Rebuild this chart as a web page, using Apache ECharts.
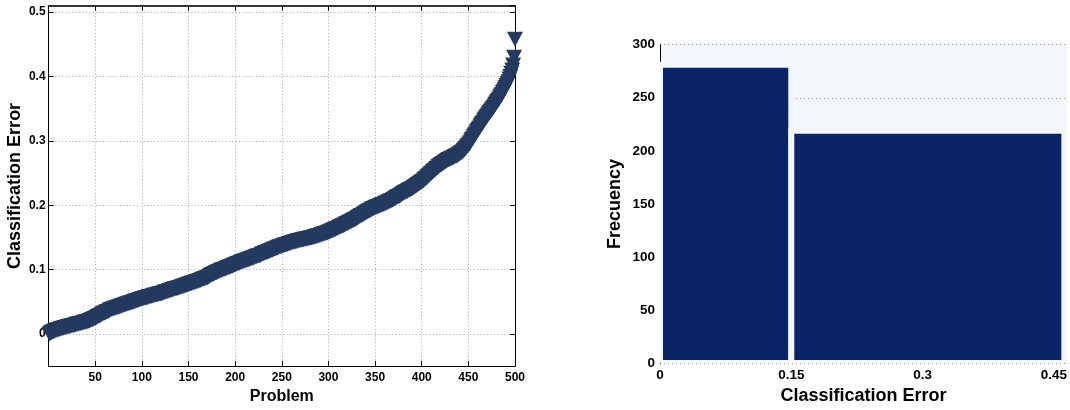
<!DOCTYPE html>
<html>
<head>
<meta charset="utf-8">
<script src="https://cdn.jsdelivr.net/npm/echarts@6/dist/echarts.min.js"></script>
<style>
  html, body { margin: 0; padding: 0; background: #ffffff; }
  #chart { width: 1070px; height: 410px; }
</style>
</head>
<body>
<div id="chart"></div>
<script>
// Sorted classification error of each problem (problems 1..500)
const errorByProblem = [
  0.000,0.001,0.002,0.003,0.003,0.004,0.005,0.005,0.006,0.006,
  0.007,0.007,0.008,0.008,0.009,0.009,0.010,0.010,0.010,0.011,
  0.011,0.011,0.012,0.012,0.013,0.013,0.013,0.014,0.014,0.015,
  0.015,0.015,0.016,0.016,0.016,0.017,0.017,0.018,0.018,0.018,
  0.019,0.019,0.020,0.020,0.021,0.022,0.022,0.023,0.024,0.024,
  0.025,0.026,0.027,0.028,0.028,0.029,0.030,0.031,0.032,0.032,
  0.033,0.034,0.035,0.035,0.036,0.037,0.038,0.038,0.039,0.039,
  0.040,0.040,0.041,0.041,0.042,0.042,0.043,0.043,0.044,0.044,
  0.045,0.045,0.046,0.046,0.047,0.047,0.048,0.048,0.049,0.049,
  0.050,0.050,0.051,0.051,0.052,0.052,0.053,0.053,0.054,0.054,
  0.055,0.055,0.056,0.056,0.056,0.057,0.057,0.058,0.058,0.058,
  0.059,0.059,0.060,0.060,0.060,0.061,0.061,0.062,0.062,0.062,
  0.063,0.063,0.064,0.064,0.065,0.065,0.066,0.066,0.067,0.067,
  0.068,0.068,0.069,0.069,0.070,0.070,0.070,0.071,0.071,0.072,
  0.072,0.073,0.073,0.074,0.074,0.075,0.075,0.076,0.076,0.077,
  0.077,0.078,0.078,0.079,0.079,0.080,0.080,0.081,0.081,0.082,
  0.082,0.083,0.083,0.084,0.085,0.085,0.086,0.086,0.087,0.087,
  0.088,0.089,0.090,0.091,0.092,0.092,0.093,0.094,0.095,0.095,
  0.096,0.097,0.097,0.098,0.099,0.099,0.100,0.100,0.101,0.101,
  0.102,0.103,0.103,0.104,0.104,0.105,0.105,0.106,0.107,0.107,
  0.108,0.109,0.109,0.110,0.110,0.111,0.112,0.112,0.113,0.113,
  0.114,0.114,0.115,0.115,0.116,0.116,0.117,0.117,0.118,0.118,
  0.119,0.120,0.120,0.121,0.121,0.122,0.122,0.123,0.124,0.124,
  0.125,0.126,0.126,0.127,0.127,0.128,0.129,0.129,0.130,0.130,
  0.131,0.132,0.132,0.133,0.133,0.134,0.135,0.135,0.136,0.136,
  0.137,0.137,0.138,0.138,0.139,0.139,0.140,0.140,0.141,0.141,
  0.142,0.142,0.143,0.143,0.143,0.144,0.144,0.145,0.145,0.145,
  0.146,0.146,0.146,0.147,0.147,0.147,0.148,0.148,0.148,0.149,
  0.149,0.149,0.150,0.150,0.151,0.151,0.151,0.152,0.152,0.153,
  0.153,0.154,0.154,0.155,0.155,0.156,0.156,0.157,0.157,0.158,
  0.158,0.159,0.160,0.160,0.161,0.162,0.162,0.163,0.164,0.164,
  0.165,0.166,0.166,0.167,0.168,0.168,0.169,0.170,0.171,0.171,
  0.172,0.173,0.174,0.174,0.175,0.176,0.177,0.177,0.178,0.179,
  0.180,0.181,0.182,0.183,0.184,0.184,0.185,0.186,0.187,0.188,
  0.189,0.190,0.191,0.191,0.192,0.193,0.194,0.195,0.195,0.196,
  0.197,0.197,0.198,0.198,0.199,0.200,0.200,0.201,0.201,0.202,
  0.203,0.203,0.204,0.205,0.205,0.206,0.207,0.207,0.208,0.209,
  0.210,0.211,0.212,0.213,0.213,0.214,0.215,0.216,0.217,0.218,
  0.219,0.220,0.220,0.221,0.222,0.223,0.224,0.224,0.225,0.226,
  0.227,0.228,0.229,0.230,0.231,0.232,0.233,0.234,0.235,0.236,
  0.237,0.238,0.240,0.241,0.242,0.244,0.245,0.246,0.248,0.249,
  0.250,0.252,0.253,0.254,0.256,0.257,0.258,0.260,0.261,0.262,
  0.263,0.264,0.265,0.266,0.267,0.268,0.269,0.270,0.271,0.271,
  0.272,0.273,0.273,0.274,0.275,0.276,0.276,0.277,0.278,0.279,
  0.280,0.281,0.282,0.283,0.285,0.286,0.288,0.290,0.292,0.293,
  0.295,0.297,0.300,0.302,0.304,0.307,0.309,0.311,0.314,0.316,
  0.318,0.320,0.323,0.325,0.327,0.329,0.332,0.334,0.336,0.338,
  0.340,0.342,0.344,0.346,0.348,0.350,0.352,0.354,0.357,0.359,
  0.361,0.363,0.365,0.368,0.370,0.372,0.375,0.377,0.380,0.383,
  0.386,0.389,0.392,0.396,0.400,0.405,0.410,0.418,0.430,0.458
];

// Histogram of the classification error
const binEdges = [0, 0.15, 0.462];
const binCounts = [281, 219];

const FONT = '"Liberation Sans", Arial, Helvetica, sans-serif';
const MARKER = '#253a5f';
const BAR = '#0b2465';
const PANEL_BG = '#f3f7fc';

const points = errorByProblem.map((v, i) => [i + 1, v]);
const bins = binCounts.map((c, i) => [binEdges[i], binEdges[i + 1], c]);

const tickFont = { color: '#000', fontWeight: 'bold', fontFamily: FONT };
const dotted = { type: [1, 2.4], color: '#a6a6a6', width: 1 };
const boxLine = { show: true, onZero: false, lineStyle: { color: '#000', width: 1 } };
const inTick = { show: true, inside: true, length: 5, lineStyle: { color: '#000' } };

const chart = echarts.init(document.getElementById('chart'), null, { renderer: 'canvas' });

chart.setOption({
  animation: false,
  backgroundColor: '#ffffff',
  grid: [
    { left: 48.6, top: 5.7, width: 466.4, height: 367, show: false },
    { left: 660, top: 44.7, right: 2, bottom: 41.3, show: true,
      backgroundColor: PANEL_BG, borderWidth: 0 }
  ],
  xAxis: [
    { // problem index, bottom edge of the box
      type: 'value', gridIndex: 0, min: 0, max: 500, interval: 50,
      name: 'Problem', nameLocation: 'middle', nameGap: 22,
      nameTextStyle: { fontSize: 16, fontWeight: 'bold', color: '#000', fontFamily: FONT },
      axisLine: boxLine,
      axisTick: inTick,
      axisLabel: Object.assign({ fontSize: 12, margin: 6, showMinLabel: false }, tickFont),
      splitLine: { show: true, lineStyle: dotted }
    },
    { // top edge of the box
      type: 'value', gridIndex: 0, min: 0, max: 500, interval: 50, position: 'top',
      axisLine: { show: true, onZero: false, lineStyle: { color: '#333', width: 2 } },
      axisTick: inTick,
      axisLabel: { show: false },
      splitLine: { show: false }
    },
    { // classification error bins
      type: 'value', gridIndex: 1, min: 0, max: 0.465, interval: 0.15,
      name: 'Classification Error', nameLocation: 'middle', nameGap: 20,
      nameTextStyle: { fontSize: 18, fontWeight: 'bold', color: '#000', fontFamily: FONT },
      axisLine: { show: false, onZero: false },
      axisTick: { show: false },
      axisLabel: Object.assign({ fontSize: 13.5, margin: 5, showMaxLabel: false }, tickFont),
      splitLine: { show: false }
    }
  ],
  yAxis: [
    { // classification error, left edge of the box
      type: 'value', gridIndex: 0, min: -0.05, max: 0.51, splitNumber: 5,
      name: 'Classification Error', nameLocation: 'middle', nameGap: 25,
      nameTextStyle: { fontSize: 18, fontWeight: 'bold', color: '#000', fontFamily: FONT },
      axisLine: boxLine,
      axisTick: inTick,
      axisLabel: Object.assign({ fontSize: 12, margin: 3, showMinLabel: false, showMaxLabel: false }, tickFont),
      splitLine: { show: true, lineStyle: dotted }
    },
    { // right edge of the box
      type: 'value', gridIndex: 0, min: -0.05, max: 0.51, splitNumber: 5, position: 'right',
      axisLine: boxLine,
      axisTick: inTick,
      axisLabel: { show: false },
      splitLine: { show: false }
    },
    { // frequency
      type: 'value', gridIndex: 1, min: 0, max: 300, interval: 50,
      name: 'Frecuency', nameLocation: 'middle', nameGap: 36,
      nameTextStyle: { fontSize: 18, fontWeight: 'bold', color: '#000', fontFamily: FONT },
      axisLine: { show: true, onZero: false, lineStyle: { color: '#000', width: 1 } },
      axisTick: { show: false },
      axisLabel: Object.assign({ fontSize: 13.5, margin: 5 }, tickFont),
      splitLine: { show: true, lineStyle: { type: [1, 3], color: '#909090', width: 1 } }
    }
  ],
  series: [
    {
      type: 'scatter', xAxisIndex: 0, yAxisIndex: 0,
      data: points,
      symbol: 'triangle', symbolRotate: 180, symbolSize: [16, 15],
      itemStyle: { color: MARKER, opacity: 1 },
      clip: false, z: 3
    },
    {
      type: 'custom', xAxisIndex: 2, yAxisIndex: 2,
      data: bins, clip: true, z: 3,
      renderItem: function (params, api) {
        const p0 = api.coord([api.value(0), 0]);
        const p1 = api.coord([api.value(1), api.value(2)]);
        return {
          type: 'rect',
          shape: { x: p0[0], y: p1[1], width: p1[0] - p0[0], height: p0[1] - p1[1] },
          style: { fill: BAR, stroke: PANEL_BG, lineWidth: 6 }
        };
      }
    }
  ]
});
</script>
</body>
</html>
